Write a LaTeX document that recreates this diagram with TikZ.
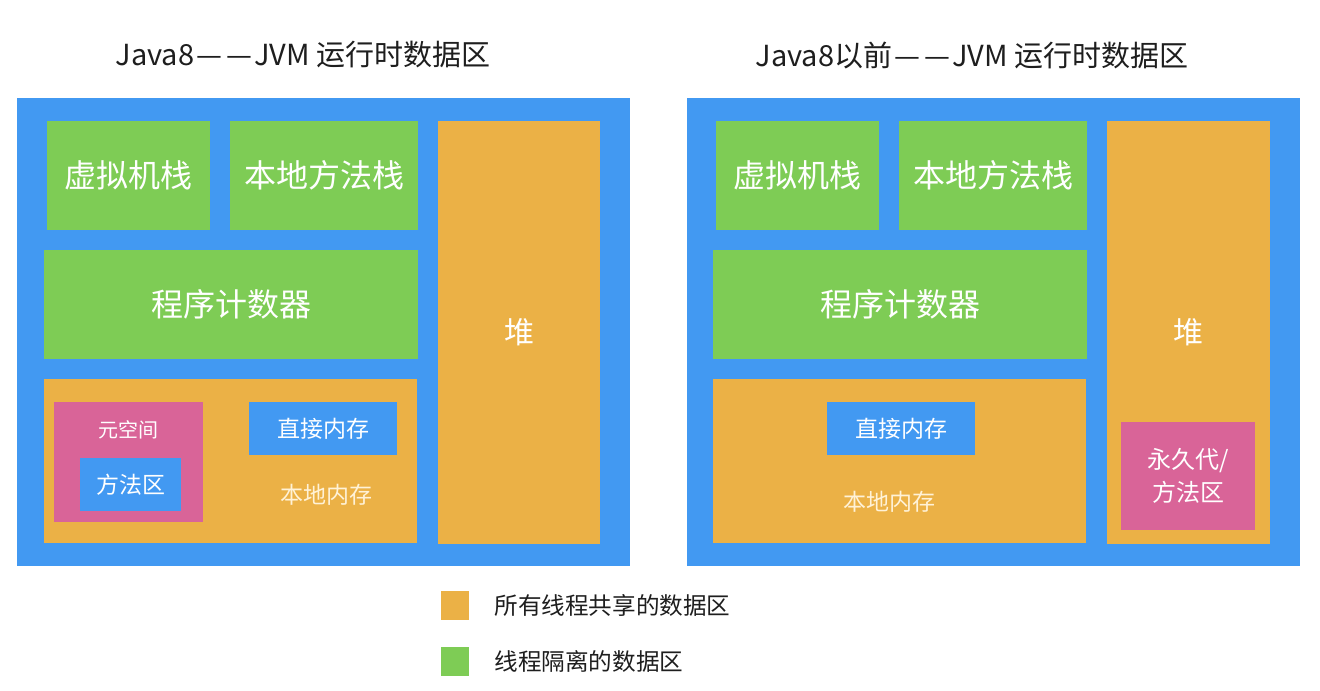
\documentclass[tikz,border=0pt]{standalone}
\usepackage{fontspec}
\setmainfont{Noto Sans CJK SC}
\definecolor{jblue}{RGB}{66,153,242}
\definecolor{jgreen}{RGB}{126,204,85}
\definecolor{jorange}{RGB}{235,177,70}
\definecolor{jpink}{RGB}{217,100,152}
\definecolor{jcream}{RGB}{255,242,215}
\definecolor{jtext}{RGB}{30,30,30}
\newcommand{\jdashes}{\kern1pt—\kern2pt—\kern1pt}
\begin{document}
\begin{tikzpicture}[x=0.5pt,y=-0.5pt,
  area/.style={draw=none,inner sep=0pt,outer sep=0pt,text=white,align=center},
  bluearea/.style={area,fill=jblue},
  greenarea/.style={area,fill=jgreen,font=\fontsize{16}{19}\selectfont},
  orangearea/.style={area,fill=jorange},
  pinkarea/.style={area,fill=jpink},
  smalllbl/.style={text=white,inner sep=0pt,font=\fontsize{11.5}{14}\selectfont},
  titlelbl/.style={text=jtext,inner sep=0pt,font=\fontsize{14.5}{17}\selectfont},
  legendlbl/.style={text=jtext,inner sep=0pt,anchor=west,font=\fontsize{11.8}{14}\selectfont}]
\useasboundingbox[fill=white] (0,0) rectangle (1320,690);

% titles
\node[titlelbl] (titleL) at (303,55) {Java8\jdashes JVM 运行时数据区};
\node[titlelbl] (titleR) at (972,55) {Java8以前\jdashes JVM 运行时数据区};

% ---------- left panel ----------
\node[bluearea,minimum width=306.5pt,minimum height=234pt] (outerL) at (323.5,332) {};
\node[greenarea,minimum width=81.5pt,minimum height=54.5pt] (vmL) at (128.5,175.5) {虚拟机栈};
\node[greenarea,minimum width=94pt,minimum height=54.5pt] (nmL) at (324,175.5) {本地方法栈};
\node[greenarea,minimum width=187pt,minimum height=54.5pt] (pcL) at (231,304.5) {程序计数器};
\node[orangearea,minimum width=186.5pt,minimum height=82pt] (nativeL) at (230.5,461) {};
\node[smalllbl,text=jcream] (nativeLlbl) at (326,495) {本地内存};
\node[pinkarea,minimum width=74.5pt,minimum height=60pt] (metaL) at (128.5,462) {};
\node[smalllbl,font=\fontsize{10}{12}\selectfont] (metaLlbl) at (128,430) {元空间};
\node[bluearea,minimum width=50.5pt,minimum height=26.5pt,font=\fontsize{11.5}{14}\selectfont] (maL) at (130.5,484.5) {方法区};
\node[bluearea,minimum width=74pt,minimum height=26.5pt,font=\fontsize{11.5}{14}\selectfont] (dmL) at (323,428.5) {直接内存};
\node[orangearea,minimum width=81pt,minimum height=211.5pt,font=\fontsize{15}{18}\selectfont] (heapL) at (519,332.5) {堆};

% ---------- right panel ----------
\node[bluearea,minimum width=306.5pt,minimum height=234pt] (outerR) at (993.5,332) {};
\node[greenarea,minimum width=81.5pt,minimum height=54.5pt] (vmR) at (797.5,175.5) {虚拟机栈};
\node[greenarea,minimum width=94pt,minimum height=54.5pt] (nmR) at (993,175.5) {本地方法栈};
\node[greenarea,minimum width=187pt,minimum height=54.5pt] (pcR) at (900,304.5) {程序计数器};
\node[orangearea,minimum width=186.5pt,minimum height=82pt] (nativeR) at (899.5,461) {};
\node[smalllbl,text=jcream] (nativeRlbl) at (889,502) {本地内存};
\node[bluearea,minimum width=74pt,minimum height=26.5pt,font=\fontsize{11.5}{14}\selectfont] (dmR) at (901,428.5) {直接内存};
\node[orangearea,minimum width=81.5pt,minimum height=211.5pt] (heapR) at (1188.5,332.5) {};
\node[text=white,inner sep=0pt,font=\fontsize{15}{18}\selectfont] (heapRlbl) at (1188,332) {堆};
\node[pinkarea,minimum width=67pt,minimum height=54pt,font=\fontsize{12}{16.5}\selectfont] (permR) at (1188,476) {永久代/\\方法区};

% ---------- legend ----------
\node[orangearea,minimum width=14pt,minimum height=14.5pt] (sqO) at (455,605.5) {};
\node[legendlbl] (legO) at (494,605) {所有线程共享的数据区};
\node[greenarea,minimum width=14pt,minimum height=14.5pt] (sqG) at (455,661.5) {};
\node[legendlbl] (legG) at (494,661) {线程隔离的数据区};
\end{tikzpicture}
\end{document}
